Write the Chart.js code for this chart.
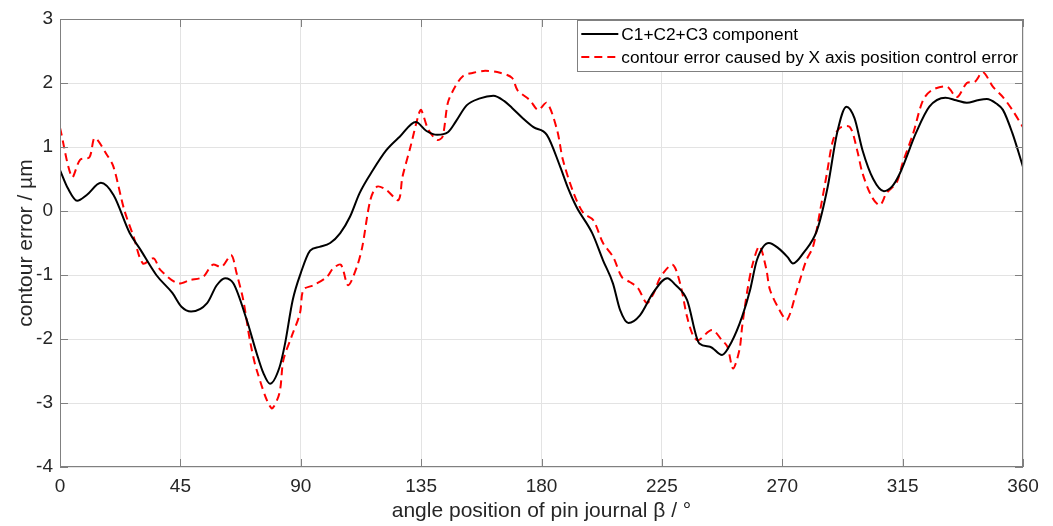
<!DOCTYPE html>
<html>
<head>
<meta charset="utf-8">
<script src="https://cdn.jsdelivr.net/npm/chart.js@4"></script>
<style>
html,body{margin:0;padding:0;background:#fff;}
#wrap{width:1053px;height:526px;position:relative;}
</style>
</head>
<body>
<div id="wrap"><canvas id="c" width="1053" height="526"></canvas></div>
<script>
// ---- data ----
const xTicks = [0, 45, 90, 135, 180, 225, 270, 315, 360];
const yTicks = [-4, -3, -2, -1, 0, 1, 2, 3];

const blackLabel = "C1+C2+C3 component";
const blackAngle = [0, 3, 6.4, 10, 15.3, 20, 26, 30, 36, 42, 45.5, 49, 55, 58.6, 61.7, 64.8, 69.8, 73.5, 76, 78.5, 82, 84, 87, 90, 93.5, 97, 101, 104.7, 108.4, 112, 117, 122, 127, 133, 137, 141, 145, 148, 152, 157, 162, 166, 169, 173, 177, 182, 187, 190, 193, 199, 203, 206.7, 209.4, 212.5, 216.8, 221.7, 227, 230, 234.4, 239, 243, 247.5, 251, 255, 258, 260.5, 265, 268.5, 272, 274, 278, 283, 287, 290.5, 294, 297, 300, 304, 308, 311, 314, 320, 325, 331, 335, 339, 343, 346.5, 350, 352.5, 356, 360];
const blackValue = [0.64, 0.35, 0.16, 0.25, 0.44, 0.25, -0.34, -0.6, -1.0, -1.28, -1.5, -1.57, -1.44, -1.16, -1.05, -1.13, -1.7, -2.22, -2.53, -2.70, -2.45, -2.1, -1.39, -0.97, -0.62, -0.56, -0.5, -0.35, -0.09, 0.28, 0.64, 0.95, 1.16, 1.39, 1.25, 1.19, 1.23, 1.4, 1.65, 1.76, 1.80, 1.72, 1.61, 1.45, 1.31, 1.19, 0.69, 0.35, 0.07, -0.35, -0.77, -1.13, -1.55, -1.75, -1.63, -1.28, -1.05, -1.15, -1.39, -2.07, -2.12, -2.25, -2.05, -1.65, -1.23, -0.77, -0.5, -0.58, -0.72, -0.82, -0.65, -0.3, 0.38, 1.22, 1.63, 1.45, 0.95, 0.5, 0.31, 0.38, 0.59, 1.22, 1.63, 1.77, 1.73, 1.69, 1.73, 1.75, 1.68, 1.58, 1.22, 0.69];

const redLabel = "contour error caused by X axis position control error";
const redAngle = [0, 4.5, 7.5, 11, 13, 17.5, 20, 24, 27.5, 31, 35, 37.5, 44, 48.6, 53.5, 57, 60.5, 64, 66, 68.5, 71, 73.5, 79, 82, 83.5, 86.5, 89.7, 91, 94.7, 99.8, 102, 105, 107.7, 111, 113, 116, 118.5, 122, 126.5, 128, 131, 134, 135, 137.7, 141, 143, 145, 147.7, 150.7, 154.5, 159, 164.5, 169, 171, 175.7, 178.7, 182, 185.8, 188, 192, 195.6, 199.3, 203, 206.8, 210, 213, 216, 219.4, 222, 224.5, 229, 231.8, 234.4, 236.6, 238.5, 243.7, 247.5, 249.5, 251.6, 254, 255, 257, 259, 261.5, 264, 265.4, 269, 271.8, 275.5, 279, 281.5, 284, 286.7, 289, 291.6, 295.3, 298, 300, 303.5, 306.5, 309, 312.8, 315, 319, 322.6, 326, 331.6, 335.3, 339, 342, 345, 348.8, 352.5, 356, 360];
const redValue = [1.30, 0.53, 0.8, 0.84, 1.14, 0.88, 0.69, 0.02, -0.4, -0.82, -0.74, -0.92, -1.13, -1.08, -1.03, -0.84, -0.87, -0.69, -0.97, -1.39, -2.02, -2.48, -3.08, -2.85, -2.33, -1.97, -1.6, -1.23, -1.16, -1.03, -0.9, -0.84, -1.16, -0.87, -0.56, 0.17, 0.38, 0.33, 0.17, 0.53, 1.0, 1.5, 1.58, 1.27, 1.11, 1.16, 1.69, 1.94, 2.11, 2.16, 2.19, 2.16, 2.08, 1.89, 1.73, 1.58, 1.69, 1.27, 0.8, 0.28, -0.03, -0.14, -0.5, -0.72, -1.03, -1.11, -1.2, -1.44, -1.28, -1.03, -0.84, -1.13, -1.65, -1.94, -2.02, -1.86, -2.02, -2.12, -2.46, -2.17, -1.81, -1.23, -0.82, -0.55, -0.9, -1.23, -1.55, -1.7, -1.23, -0.77, -0.56, -0.03, 0.59, 1.11, 1.3, 1.31, 0.95, 0.59, 0.22, 0.09, 0.28, 0.45, 0.75, 1.22, 1.73, 1.89, 1.94, 1.78, 2.0, 2.02, 2.17, 1.94, 1.78, 1.58, 1.31];

const xTitle = "angle position of pin journal β / °";
const yTitle = "contour error / µm";

// ---- build points ----
const blackPts = blackAngle.map((a, i) => ({x: a, y: blackValue[i]}));
const redPts = redAngle.map((a, i) => ({x: a, y: redValue[i]}));

const FONT = "'Liberation Sans', Arial, Helvetica, sans-serif";
const AXIS_COLOR = '#808080';
const TEXT_COLOR = '#262626';

// MATLAB-like box, inward ticks, and legend
const boxPlugin = {
  id: 'matlabBox',
  afterDatasetsDraw(chart) {
    const {ctx, chartArea: a, scales} = chart;
    ctx.save();
    ctx.strokeStyle = AXIS_COLOR;
    ctx.lineWidth = 1;
    ctx.strokeRect(a.left + 0.5, a.top + 0.5, a.right - a.left - 1, a.bottom - a.top - 1);
    const tl = 8;
    ctx.beginPath();
    xTicks.forEach(v => {
      const px = Math.round(scales.x.getPixelForValue(v)) + 0.5;
      ctx.moveTo(px, a.bottom); ctx.lineTo(px, a.bottom - tl);
      ctx.moveTo(px, a.top); ctx.lineTo(px, a.top + tl);
    });
    yTicks.forEach(v => {
      const py = Math.round(scales.y.getPixelForValue(v)) + 0.5;
      ctx.moveTo(a.left, py); ctx.lineTo(a.left + tl, py);
      ctx.moveTo(a.right, py); ctx.lineTo(a.right - tl, py);
    });
    ctx.stroke();

    // legend
    ctx.font = "17.3px " + FONT;
    const items = chart.data.datasets;
    const textW = Math.max(...items.map(d => ctx.measureText(d.label).width));
    const sampleW = 37, gapL = 4, gapT = 3, padR = 5;
    const w = gapL + sampleW + gapT + textW + padR;
    const h = 51;
    const x0 = a.right - w, y0 = a.top + 1;
    ctx.fillStyle = '#fff';
    ctx.fillRect(x0, y0, w, h);
    ctx.strokeStyle = AXIS_COLOR;
    ctx.strokeRect(Math.round(x0) + 0.5, y0 + 0.5, Math.round(w) - 1, h);
    items.forEach((d, i) => {
      const cy = y0 + 14 + i * 23;
      ctx.strokeStyle = d.borderColor;
      ctx.lineWidth = d.borderWidth;
      ctx.setLineDash(d.borderDash || []);
      ctx.beginPath();
      ctx.moveTo(x0 + gapL, cy); ctx.lineTo(x0 + gapL + sampleW, cy);
      ctx.stroke();
      ctx.setLineDash([]);
      ctx.fillStyle = '#000';
      ctx.textBaseline = 'middle';
      ctx.textAlign = 'left';
      ctx.fillText(d.label, x0 + gapL + sampleW + gapT, cy + 1);
    });
    ctx.restore();
  }
};

new Chart(document.getElementById('c'), {
  type: 'line',
  data: {
    datasets: [
      {label: blackLabel, data: blackPts, borderColor: '#000000', borderWidth: 2, pointRadius: 0, tension: 0.4, cubicInterpolationMode: 'monotone', fill: false},
      {label: redLabel, data: redPts, borderColor: '#ff0000', borderWidth: 2, borderDash: [8, 5], pointRadius: 0, tension: 0.3, fill: false}
    ]
  },
  options: {
    responsive: false,
    animation: false,
    devicePixelRatio: 1,
    layout: {padding: {top: 19, right: 30, left: 0, bottom: 0}},
    plugins: {legend: {display: false}, tooltip: {enabled: false}},
    scales: {
      x: {
        type: 'linear', min: 0, max: 360,
        afterBuildTicks: s => { s.ticks = xTicks.map(v => ({value: v})); },
        afterFit: s => { s.height = 59; },
        grid: {color: '#e3e3e3', lineWidth: 1, drawTicks: false},
        border: {display: false},
        ticks: {color: TEXT_COLOR, font: {size: 19, family: FONT}, padding: 8, maxRotation: 0},
        title: {display: true, text: xTitle, color: TEXT_COLOR, font: {size: 21, family: FONT}, padding: {top: 0, bottom: 2}}
      },
      y: {
        type: 'linear', min: -4, max: 3,
        afterBuildTicks: s => { s.ticks = yTicks.map(v => ({value: v})); },
        afterFit: s => { s.width = 60; },
        grid: {color: '#e3e3e3', lineWidth: 1, drawTicks: false},
        border: {display: false},
        ticks: {color: TEXT_COLOR, font: {size: 19, family: FONT}, padding: 7},
        title: {display: true, text: yTitle, color: TEXT_COLOR, font: {size: 21, family: FONT}, padding: {top: 14, bottom: 0}}
      }
    }
  },
  plugins: [boxPlugin]
});
</script>
</body>
</html>
